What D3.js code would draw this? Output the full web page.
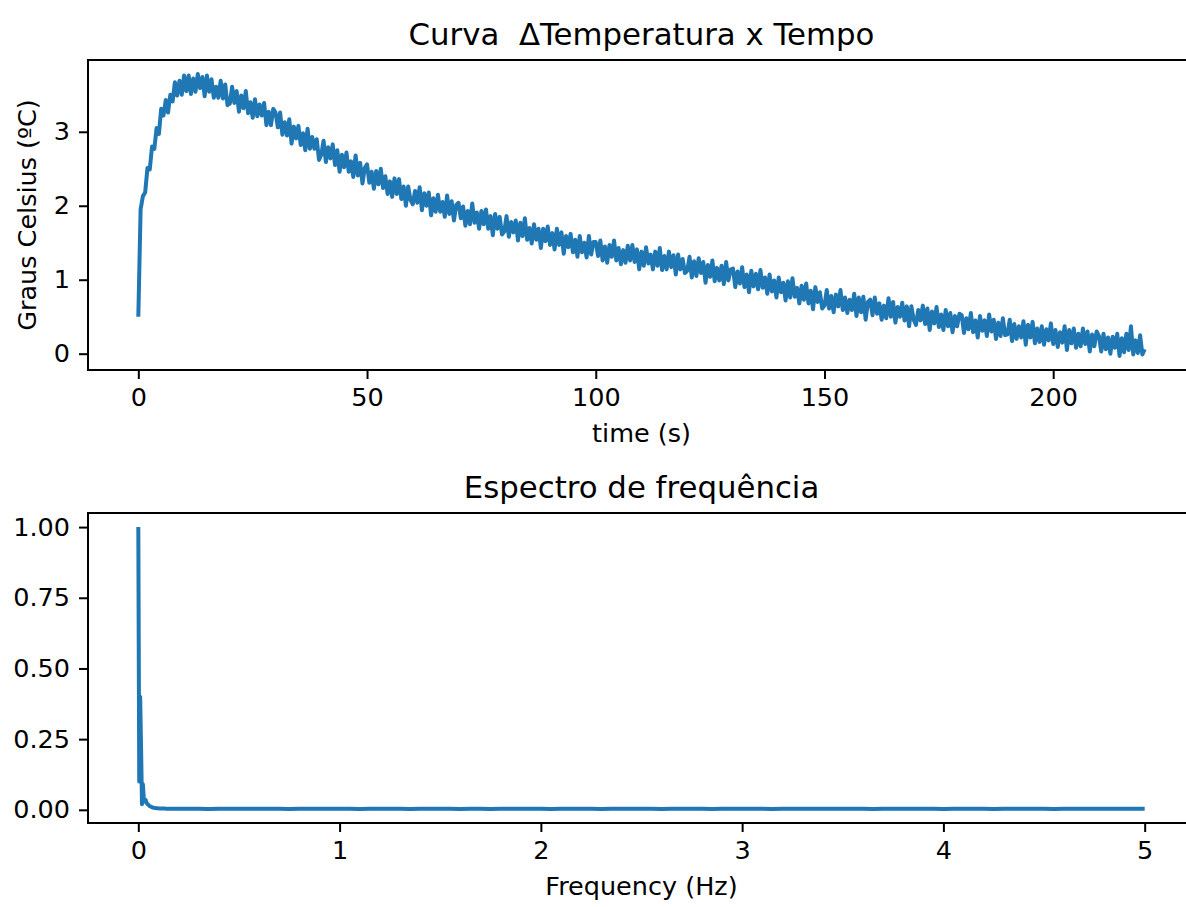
<!DOCTYPE html>
<html><head><meta charset="utf-8">
<script src="https://cdn.jsdelivr.net/npm/d3@7"></script>
<style>
html,body{margin:0;padding:0;background:#fff;}
svg{display:block;font-family:"DejaVu Sans",sans-serif;}
</style></head>
<body><svg id="chart" width="1186" height="907"></svg>
<script>
// ---------- data ----------
const topTitle = "Curva  ΔTemperatura x Tempo";
const topXLabel = "time (s)";
const topYLabel = "Graus Celsius (ºC)";
const bottomTitle = "Espectro de frequência";
const bottomXLabel = "Frequency (Hz)";

const tempStepS = 0.5;  // sample spacing of the temperature readings
const tempC = [
0.50,1.95,2.13,2.18,2.51,2.49,2.80,2.77,3.05,2.97,3.31,3.22,3.43,3.26,3.50,3.41,3.67,3.49,3.69,3.50,
3.76,3.55,3.76,3.51,3.72,3.54,3.78,3.59,3.74,3.48,3.76,3.54,3.71,3.46,3.61,3.46,3.69,3.45,3.64,3.36,
3.38,3.61,3.39,3.55,3.27,3.49,3.32,3.55,3.25,3.40,3.19,3.44,3.21,3.37,3.22,3.39,3.09,3.27,3.09,3.31,
3.26,3.06,3.26,2.96,3.13,2.95,3.17,2.84,3.07,2.91,3.08,2.82,2.98,2.75,3.04,2.77,2.93,2.77,2.90,2.62,
2.69,2.88,2.59,2.79,2.64,2.83,2.55,2.75,2.46,2.69,2.52,2.72,2.46,2.60,2.39,2.68,2.41,2.58,2.30,2.51,
2.56,2.31,2.46,2.23,2.47,2.29,2.50,2.24,2.40,2.16,2.33,2.12,2.37,2.16,2.36,2.09,2.26,2.00,2.26,2.08,
2.02,2.20,2.04,2.25,1.94,2.17,2.00,2.18,1.87,2.10,1.92,2.15,1.92,2.05,1.85,2.14,1.89,2.06,1.80,2.01,
2.04,1.83,1.99,1.73,1.93,1.75,2.03,1.77,1.91,1.69,1.93,1.75,1.95,1.69,1.86,1.60,1.89,1.69,1.85,1.61,
1.65,1.86,1.58,1.78,1.64,1.80,1.53,1.77,1.59,1.83,1.54,1.70,1.49,1.75,1.54,1.69,1.43,1.69,1.52,1.72,
1.47,1.63,1.41,1.69,1.47,1.64,1.35,1.59,1.44,1.62,1.37,1.54,1.31,1.59,1.37,1.50,1.30,1.59,1.34,1.51,
1.51,1.32,1.53,1.26,1.45,1.23,1.47,1.31,1.53,1.26,1.43,1.21,1.40,1.23,1.46,1.26,1.47,1.24,1.41,1.14,
1.38,1.19,1.44,1.22,1.34,1.14,1.38,1.19,1.43,1.13,1.32,1.14,1.38,1.17,1.33,1.07,1.34,1.14,1.28,1.09,
1.12,1.31,1.03,1.25,1.05,1.29,1.09,1.24,0.96,1.20,1.04,1.26,0.98,1.16,0.99,1.19,0.94,1.24,0.99,1.14,
1.15,0.90,1.11,0.95,1.17,0.90,1.07,0.83,1.12,0.91,1.08,0.87,1.13,0.89,1.03,0.81,1.07,0.84,0.99,0.76,
1.03,0.83,0.96,0.72,0.98,0.76,1.02,0.77,0.89,0.68,0.92,0.73,0.95,0.68,0.85,0.60,0.90,0.70,0.83,0.61,
0.65,0.86,0.61,0.78,0.56,0.80,0.64,0.86,0.59,0.76,0.55,0.73,0.59,0.81,0.51,0.76,0.56,0.77,0.46,0.70,
0.73,0.52,0.76,0.54,0.68,0.46,0.65,0.48,0.75,0.50,0.70,0.42,0.63,0.50,0.69,0.45,0.64,0.37,0.64,0.46,
0.39,0.59,0.45,0.65,0.40,0.61,0.32,0.57,0.41,0.63,0.36,0.53,0.32,0.59,0.37,0.55,0.29,0.51,0.37,0.54,
0.52,0.28,0.48,0.33,0.55,0.29,0.45,0.22,0.51,0.31,0.45,0.24,0.53,0.30,0.46,0.20,0.42,0.24,0.48,0.25,
0.26,0.46,0.17,0.40,0.20,0.37,0.22,0.44,0.12,0.39,0.22,0.43,0.14,0.34,0.16,0.37,0.12,0.33,0.18,0.41,
0.13,0.32,0.09,0.29,0.15,0.37,0.05,0.32,0.14,0.34,0.08,0.27,0.10,0.34,0.13,0.30,0.03,0.26,0.10,0.30,
0.24,0.03,0.27,0.06,0.22,0.00,0.23,0.08,0.27,-0.03,0.21,0.02,0.27,0.05,0.37,-0.01,0.18,0.01,0.25,-0.01,
0.06
];

const specBinHz = 10 / 2200;   // FFT bin spacing (10 Hz sampling, 2200 samples)
const specLowMag = [
1.00,0.10,0.40,0.22,0.02,0.09,0.04,0.03,0.035,0.025,0.02,0.018,0.014,0.012,0.011,0.009,0.008,0.007,0.0065,0.006,
0.0058,0.0055,0.0052,0.005,0.0049,0.0047,0.0046,0.0045,0.0044,0.0043,0.0042,0.0041,0.0041,0.004,0.0042,0.0039,0.0038,0.0040,0.0037,0.0038,
0.0036,0.0037,0.0035,0.0036,0.0035
];
const specTailStartHz = 0.25;
const specTailStepHz = 0.05;
const specTailMag = [
0.0035,0.0040,0.0033,0.0038,0.0036,0.0042,0.0034,0.0037,0.0035,0.0039,
0.0033,0.0036,0.0041,0.0034,0.0037,0.0035,0.0038,0.0032,0.0036,0.0034,
0.0039,0.0035,0.0033,0.0037,0.0040,0.0034,0.0036,0.0033,0.0038,0.0035,
0.0032,0.0036,0.0039,0.0034,0.0035,0.0037,0.0033,0.0036,0.0034,0.0038,
0.0035,0.0033,0.0037,0.0034,0.0036,0.0039,0.0035,0.0032,0.0036,0.0034,
0.0037,0.0035,0.0033,0.0038,0.0034,0.0036,0.0035,0.0040,0.0033,0.0036,
0.0034,0.0037,0.0035,0.0039,0.0036,0.0034,0.0038,0.0035,0.0033,0.0037,
0.0036,0.0034,0.0039,0.0035,0.0037,0.0033,0.0036,0.0034,0.0038,0.0035,
0.0033,0.0036,0.0035,0.0037,0.0034,0.0036,0.0033,0.0035,0.0037,0.0034,
0.0036,0.0035,0.0034,0.0036,0.0035,0.0034
];

const topXTicks = [0, 50, 100, 150, 200];
const topYTicks = [0, 1, 2, 3];
const bottomXTicks = [0, 1, 2, 3, 4, 5];
const bottomYTicks = [0, 0.25, 0.5, 0.75, 1.0];

// ---------- build series ----------
const tempSeries = tempC.map((v, i) => ({x: i * tempStepS, y: v}));
const specSeries = specLowMag.map((v, k) => ({x: k * specBinHz, y: v}))
  .concat(specTailMag.map((v, i) => ({x: specTailStartHz + i * specTailStepHz, y: v})));

// ---------- layout ----------
const svg = d3.select("#chart");
const color = "#1f77b4";
const tickFont = 25.5, titleFont = 30.8;
const axLeft = 88, axRight = 1195;

function padded(ext) { const r = ext[1] - ext[0]; return [ext[0] - 0.05 * r, ext[1] + 0.05 * r]; }

function panel(o) {
  const g = svg.append("g");
  const x = d3.scaleLinear().domain(padded(d3.extent(o.data, d => d.x))).range([axLeft, axRight]);
  const y = d3.scaleLinear().domain(padded(d3.extent(o.data, d => d.y))).range([o.bottom, o.top]);
  const clipId = "clip" + o.id;
  svg.append("clipPath").attr("id", clipId).append("rect")
    .attr("x", axLeft).attr("y", o.top).attr("width", axRight - axLeft).attr("height", o.bottom - o.top);

  g.append("path").datum(o.data)
    .attr("clip-path", `url(#${clipId})`)
    .attr("fill", "none").attr("stroke", color).attr("stroke-width", 4)
    .attr("stroke-linejoin", "round").attr("stroke-linecap", "butt")
    .attr("d", d3.line().x(d => x(d.x)).y(d => y(d.y)));

  const xAxis = g.append("g").attr("transform", `translate(0,${o.bottom})`)
    .call(d3.axisBottom(x).tickValues(o.xTicks).tickSize(9).tickPadding(9).tickFormat(o.xFmt));
  const yAxis = g.append("g").attr("transform", `translate(${axLeft},0)`)
    .call(d3.axisLeft(y).tickValues(o.yTicks).tickSize(9).tickPadding(9).tickFormat(o.yFmt));
  [xAxis, yAxis].forEach(a => {
    a.select(".domain").remove();
    a.selectAll("line").attr("stroke", "#000").attr("stroke-width", 2);
    a.selectAll("text").attr("fill", "#000").style("font-size", tickFont + "px")
      .style("font-family", "DejaVu Sans");
  });

  // frame (spines)
  g.append("rect").attr("x", axLeft).attr("y", o.top)
    .attr("width", axRight - axLeft).attr("height", o.bottom - o.top)
    .attr("fill", "none").attr("stroke", "#000").attr("stroke-width", 2);

  const cx = (axLeft + axRight) / 2;
  g.append("text").attr("x", cx).attr("y", o.top - 15).attr("text-anchor", "middle")
    .attr("xml:space", "preserve").style("white-space", "pre")
    .style("font-size", titleFont + "px").attr("fill", "#000").text(o.title);
  g.append("text").attr("x", cx).attr("y", o.xLabelY).attr("text-anchor", "middle")
    .style("font-size", tickFont + "px").attr("fill", "#000").text(o.xLabel);
  if (o.yLabel) {
    g.append("text").attr("transform", `translate(36,${(o.top + o.bottom) / 2}) rotate(-90)`)
      .attr("text-anchor", "middle").style("font-size", tickFont + "px").attr("fill", "#000").text(o.yLabel);
  }
}

panel({id: "t", data: tempSeries, top: 60, bottom: 370, xTicks: topXTicks, yTicks: topYTicks,
  xFmt: d3.format("d"), yFmt: d3.format("d"), title: topTitle, xLabel: topXLabel, xLabelY: 442, yLabel: topYLabel});
panel({id: "b", data: specSeries, top: 513, bottom: 823, xTicks: bottomXTicks, yTicks: bottomYTicks,
  xFmt: d3.format("d"), yFmt: d3.format(".2f"), title: bottomTitle, xLabel: bottomXLabel, xLabelY: 895});
</script></body></html>
